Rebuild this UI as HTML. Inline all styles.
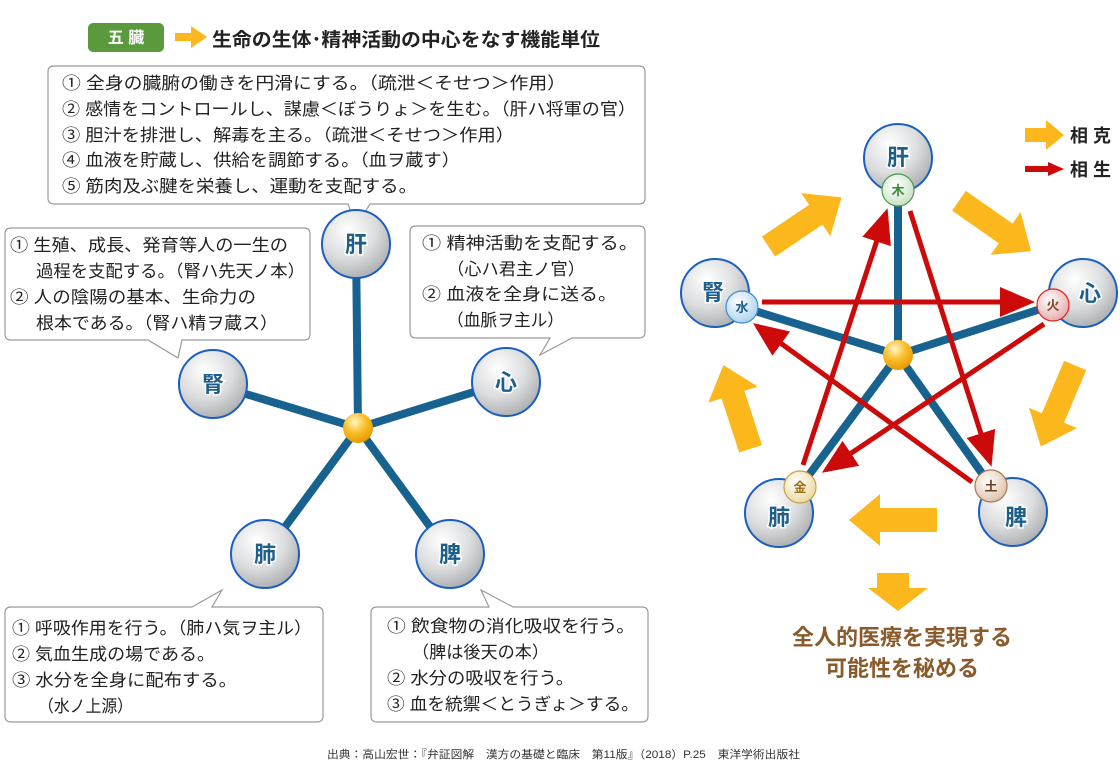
<!DOCTYPE html>
<html><head><meta charset="utf-8"><style>
html,body{margin:0;padding:0;background:#fff;}
svg{display:block;font-family:"Liberation Sans","Noto Sans CJK JP",sans-serif;}
.t{font-size:17px;fill:#222;}
.n{font-size:22px;font-weight:bold;fill:#1d5f8a;stroke:#fff;stroke-width:3px;paint-order:stroke;}
.s{font-size:13px;font-weight:bold;}
</style></head><body>
<svg width="1120" height="773" viewBox="0 0 1120 773">
<defs>
<radialGradient id="sp" cx="0.38" cy="0.3" r="0.75">
<stop offset="0" stop-color="#ffffff"/><stop offset="0.55" stop-color="#dcdddf"/><stop offset="1" stop-color="#a9abad"/>
</radialGradient>
<radialGradient id="org" cx="0.4" cy="0.3" r="0.7">
<stop offset="0" stop-color="#fff6c8"/><stop offset="0.5" stop-color="#fbc02d"/><stop offset="1" stop-color="#e89a00"/>
</radialGradient>
<radialGradient id="gm" cx="0.4" cy="0.35" r="0.7"><stop offset="0" stop-color="#fff"/><stop offset="1" stop-color="#c8e0c0"/></radialGradient>
<radialGradient id="gw" cx="0.4" cy="0.35" r="0.7"><stop offset="0" stop-color="#fff"/><stop offset="1" stop-color="#a9d0ee"/></radialGradient>
<radialGradient id="gf" cx="0.4" cy="0.35" r="0.7"><stop offset="0" stop-color="#fff"/><stop offset="1" stop-color="#e4a8a8"/></radialGradient>
<radialGradient id="gk" cx="0.4" cy="0.35" r="0.7"><stop offset="0" stop-color="#fff"/><stop offset="1" stop-color="#ead8a0"/></radialGradient>
<radialGradient id="gd" cx="0.4" cy="0.35" r="0.7"><stop offset="0" stop-color="#fff"/><stop offset="1" stop-color="#dcc0a8"/></radialGradient>
<marker id="ah" markerWidth="7" markerHeight="6" refX="6" refY="3" orient="auto" markerUnits="strokeWidth">
<path d="M0,0 L7,3 L0,6 z" fill="#cc0a0a"/></marker>
<path id="ya" d="M-44,-12 L13,-12 L13,-26 L44,0 L13,26 L13,12 L-44,12 z" fill="#fbb71c"/>
</defs>

<!-- header -->
<rect x="88" y="23" width="76" height="29" rx="5" fill="#5a9a3c"/>
<text x="126" y="43" text-anchor="middle" font-size="16" font-weight="bold" fill="#fff">五 臓</text>
<path d="M175,33 L191,33 L191,26 L207,37 L191,48 L191,41 L175,41 z" fill="#fbb71c"/>
<text x="212" y="46" font-size="19" font-weight="bold" fill="#222" textLength="388" lengthAdjust="spacingAndGlyphs">生命の生体･精神活動の中心をなす機能単位</text>

<!-- callout boxes -->
<g fill="#fff" stroke="#9a9a9a" stroke-width="1.2">
<path d="M54,66 H639 Q645,66 645,72 V198 Q645,204 639,204 H370 L356,226 L348,204 H54 Q48,204 48,198 V72 Q48,66 54,66 z"/>
<path d="M11,228 H304 Q310,228 310,234 V334 Q310,340 304,340 H182 L178,358 L148,340 H11 Q5,340 5,334 V234 Q5,228 11,228 z"/>
<path d="M416,226 H639 Q645,226 645,232 V332 Q645,338 639,338 H572 L540,355 L550,338 H416 Q410,338 410,332 V232 Q410,226 416,226 z"/>
<path d="M11,607 H192 L222,590 L212,607 H317 Q323,607 323,613 V716 Q323,722 317,722 H11 Q5,722 5,716 V613 Q5,607 11,607 z"/>
<path d="M377,607 H489 L481,590 L513,607 H642 Q648,607 648,613 V716 Q648,722 642,722 H377 Q371,722 371,716 V613 Q371,607 377,607 z"/>
</g>
<g class="t" lengthAdjust="spacingAndGlyphs">
<text x="62" y="89" textLength="504" lengthAdjust="spacingAndGlyphs">① 全身の臓腑の働きを円滑にする。（疏泄＜そせつ＞作用）</text>
<text x="62" y="115" textLength="574" lengthAdjust="spacingAndGlyphs">② 感情をコントロールし、謀慮＜ぼうりょ＞を生む。（肝ハ将軍の官）</text>
<text x="62" y="141" textLength="452" lengthAdjust="spacingAndGlyphs">③ 胆汁を排泄し、解毒を主る。（疏泄＜そせつ＞作用）</text>
<text x="62" y="166" textLength="398" lengthAdjust="spacingAndGlyphs">④ 血液を貯蔵し、供給を調節する。（血ヲ蔵す）</text>
<text x="62" y="192" textLength="355" lengthAdjust="spacingAndGlyphs">⑤ 筋肉及ぶ腱を栄養し、運動を支配する。</text>

<text x="10" y="251" textLength="278" lengthAdjust="spacingAndGlyphs">① 生殖、成長、発育等人の一生の</text>
<text x="36" y="277" textLength="269" lengthAdjust="spacingAndGlyphs">過程を支配する。（腎ハ先天ノ本）</text>
<text x="10" y="303" textLength="246" lengthAdjust="spacingAndGlyphs">② 人の陰陽の基本、生命力の</text>
<text x="36" y="329" textLength="242" lengthAdjust="spacingAndGlyphs">根本である。（腎ハ精ヲ蔵ス）</text>

<text x="422" y="249" textLength="216" lengthAdjust="spacingAndGlyphs">① 精神活動を支配する。</text>
<text x="447" y="275" textLength="138" lengthAdjust="spacingAndGlyphs">（心ハ君主ノ官）</text>
<text x="422" y="300" textLength="195" lengthAdjust="spacingAndGlyphs">② 血液を全身に送る。</text>
<text x="447" y="326" textLength="117" lengthAdjust="spacingAndGlyphs">（血脈ヲ主ル）</text>

<text x="12" y="634" textLength="300" lengthAdjust="spacingAndGlyphs">① 呼吸作用を行う。（肺ハ気ヲ主ル）</text>
<text x="12" y="660" textLength="203" lengthAdjust="spacingAndGlyphs">② 気血生成の場である。</text>
<text x="12" y="686" textLength="225" lengthAdjust="spacingAndGlyphs">③ 水分を全身に配布する。</text>
<text x="38" y="712" textLength="95" lengthAdjust="spacingAndGlyphs">（水ノ上源）</text>

<text x="387" y="632" textLength="248" lengthAdjust="spacingAndGlyphs">① 飲食物の消化吸収を行う。</text>
<text x="412" y="658" textLength="137" lengthAdjust="spacingAndGlyphs">（脾は後天の本）</text>
<text x="387" y="684" textLength="187" lengthAdjust="spacingAndGlyphs">② 水分の吸収を行う。</text>
<text x="387" y="710" textLength="252" lengthAdjust="spacingAndGlyphs">③ 血を統禦＜とうぎょ＞する。</text>
</g>

<!-- left diagram -->
<g stroke="#17628f" stroke-width="8">
<line x1="358" y1="428" x2="356" y2="244"/>
<line x1="358" y1="428" x2="506" y2="382"/>
<line x1="358" y1="428" x2="213" y2="384"/>
<line x1="358" y1="428" x2="265" y2="554"/>
<line x1="358" y1="428" x2="450" y2="554"/>
</g>
<circle cx="358" cy="428" r="15" fill="url(#org)"/>
<g fill="url(#sp)" stroke="#1a5fc0" stroke-width="2">
<circle cx="356" cy="244" r="34"/><circle cx="506" cy="382" r="34"/><circle cx="213" cy="384" r="34"/>
<circle cx="265" cy="554" r="34"/><circle cx="450" cy="554" r="34"/>
</g>
<g class="n" text-anchor="middle">
<text x="356" y="252">肝</text><text x="506" y="390">心</text><text x="213" y="392">腎</text>
<text x="265" y="562">肺</text><text x="450" y="562">脾</text>
</g>

<!-- right diagram -->
<g fill="url(#sp)" stroke="#1a5fc0" stroke-width="2">
<circle cx="898" cy="158" r="34"/><circle cx="1083" cy="293" r="34"/><circle cx="715" cy="293" r="34"/>
<circle cx="779" cy="513" r="34"/><circle cx="1013" cy="512" r="34"/>
</g>
<g class="n" text-anchor="middle">
<text x="898" y="165">肝</text><text x="1090" y="301">心</text><text x="713" y="300">腎</text>
<text x="779" y="525">肺</text><text x="1016" y="525">脾</text>
</g>
<g stroke="#17628f" stroke-width="8">
<line x1="898" y1="355" x2="898" y2="190"/>
<line x1="898" y1="355" x2="1053" y2="305"/>
<line x1="898" y1="355" x2="742" y2="307"/>
<line x1="898" y1="355" x2="800" y2="487"/>
<line x1="898" y1="355" x2="991" y2="486"/>
</g>
<g stroke="#cc0a0a" stroke-width="5" fill="none" marker-end="url(#ah)">
<line x1="762" y1="302" x2="1030" y2="302"/>
<line x1="803" y1="465" x2="886" y2="213"/>
<line x1="910" y1="211" x2="990" y2="462"/>
<line x1="1044" y1="324" x2="826" y2="470"/>
<line x1="972" y1="482" x2="757" y2="326"/>
</g>
<circle cx="898" cy="355" r="15" fill="url(#org)"/>
<circle cx="898" cy="190" r="16" fill="url(#gm)" stroke="#4a9a4a" stroke-width="1.2"/>
<circle cx="1053" cy="305" r="16" fill="url(#gf)" stroke="#e02020" stroke-width="1.2"/>
<circle cx="742" cy="307" r="16" fill="url(#gw)" stroke="#3a8ad8" stroke-width="1.2"/>
<circle cx="800" cy="487" r="16" fill="url(#gk)" stroke="#c8a040" stroke-width="1.2"/>
<circle cx="991" cy="486" r="16" fill="url(#gd)" stroke="#a87850" stroke-width="1.2"/>
<g class="s" text-anchor="middle">
<text x="898" y="195" fill="#3a8a3a">木</text>
<text x="1053" y="310" fill="#8a4020">火</text>
<text x="742" y="312" fill="#1d5f8a">水</text>
<text x="800" y="492" fill="#a07010">金</text>
<text x="991" y="491" fill="#6a4020">土</text>
</g>

<!-- yellow arrows -->
<use href="#ya" transform="translate(805,222) rotate(-34)"/>
<use href="#ya" transform="translate(995,226) rotate(35)"/>
<use href="#ya" transform="translate(1058,406) rotate(113)"/>
<use href="#ya" transform="translate(893,520) rotate(180)"/>
<use href="#ya" transform="translate(737,407) rotate(-108)"/>

<!-- legend -->
<path d="M1025,128 L1046,128 L1046,120 L1064,135 L1046,150 L1046,142 L1025,142 z" fill="#fbb71c"/>
<text x="1070" y="142" font-size="18" font-weight="bold" fill="#222">相 克</text>
<path d="M1025,166 L1048,166 L1048,162 L1064,169 L1048,176 L1048,172 L1025,172 z" fill="#cc0a0a"/>
<text x="1070" y="176" font-size="18" font-weight="bold" fill="#222">相 生</text>

<!-- bottom -->
<path d="M877,573 L909,573 L909,588 L928,588 L898,611 L868,588 L877,588 z" fill="#fbb71c"/>
<text x="902" y="645" text-anchor="middle" font-size="22" font-weight="bold" fill="#8a5a2a">全人的医療を実現する</text>
<text x="902" y="676" text-anchor="middle" font-size="22" font-weight="bold" fill="#8a5a2a">可能性を秘める</text>
<text x="327" y="758" font-size="11" fill="#333" textLength="473" lengthAdjust="spacingAndGlyphs">出典：高山宏世：『弁証図解　漢方の基礎と臨床　第11版』（2018）P.25　東洋学術出版社</text>
</svg>
</body></html>
